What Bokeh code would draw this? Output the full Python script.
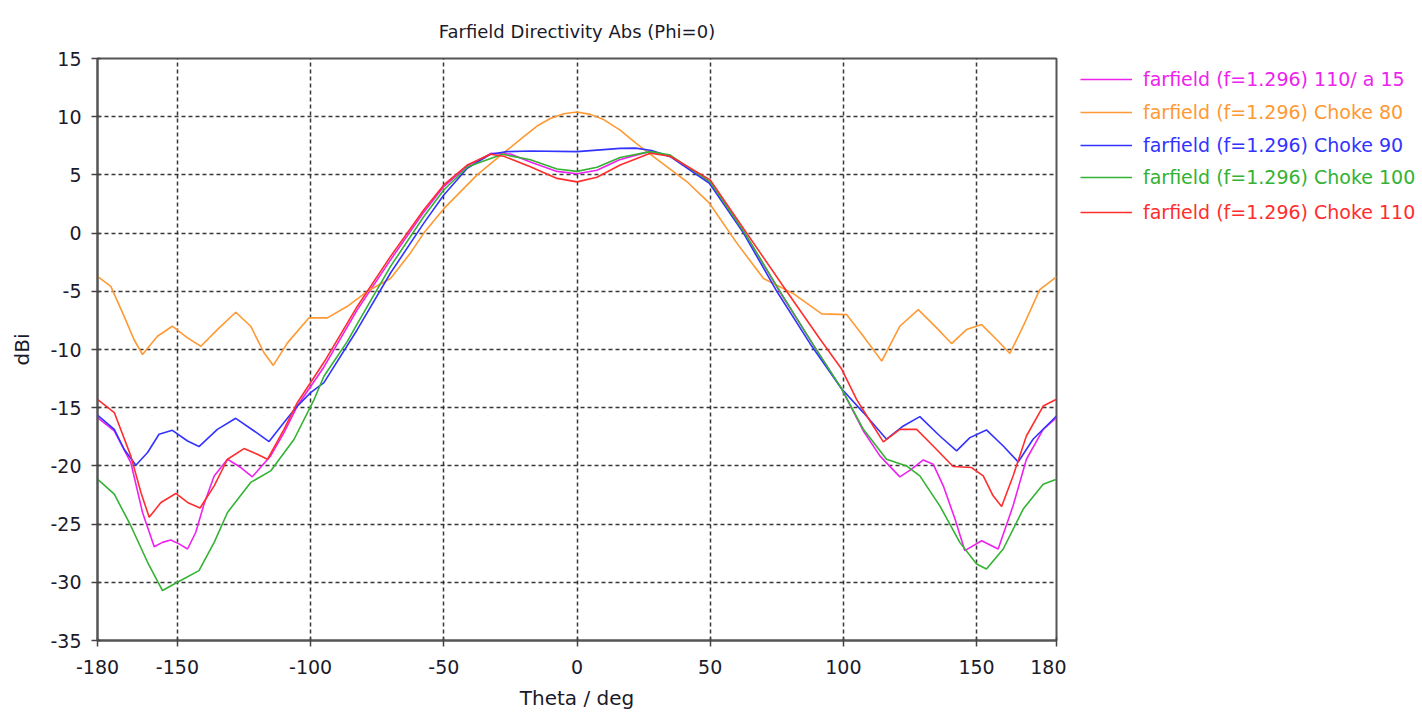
from bokeh.plotting import figure
from bokeh.layouts import row
from bokeh.models import FixedTicker, Legend, LegendItem, Range1d, PrintfTickFormatter
from bokeh.embed import file_html
from bokeh.resources import INLINE

# ---------------- data ----------------
x_ticks = [-180, -150, -100, -50, 0, 50, 100, 150, 180]
y_ticks = [-35, -30, -25, -20, -15, -10, -5, 0, 5, 10, 15]

series_names = [
    "farfield (f=1.296) 110/ a 15",
    "farfield (f=1.296) Choke 80",
    "farfield (f=1.296) Choke 90",
    "farfield (f=1.296) Choke 100",
    "farfield (f=1.296) Choke 110",
]
series_colors = ["#ee22ee", "#ff9933", "#3333ff", "#33b233", "#ff2e2e"]

theta_a15 = [-180, -173.7, -167.5, -163.1, -158.7, -155.6, -152.5, -149.4, -146.2, -143.1, -140,
             -136.2, -131.2, -126.2, -121.9, -115, -110, -105, -95, -82.5, -70, -57.5, -50,
             -41, -32.3, -25, -17.5, -7.5, 0, 7.5, 16, 27, 35, 50, 63, 76, 88.7, 99.4, 107.5,
             113.7, 121.2, 125.6, 130, 133.7, 137.5, 141.9, 145.6, 151.9, 158.1, 163.7, 168.7,
             175, 180]
dbi_a15 = [-15.85, -17.0, -19.71, -24.0, -26.94, -26.57, -26.37, -26.7, -27.14, -25.7, -23.28,
           -20.86, -19.43, -20.14, -20.94, -19.14, -17.14, -14.86, -11.5, -6.6, -2.3, 1.8, 4.0,
           5.8, 6.85, 6.8, 6.1, 5.3, 5.1, 5.4, 6.3, 7.0, 6.6, 4.4, 0.0, -5.0, -9.6, -13.4, -17.0,
           -19.14, -20.94, -20.28, -19.49, -19.85, -21.71, -24.57, -27.28, -26.43, -27.14, -23.43,
           -19.43, -16.86, -15.85]

theta_c80 = [-180, -175, -170, -166.3, -163.1, -157.5, -151.9, -146.2, -141.2, -135, -128.1,
             -122.5, -117.5, -114, -108.7, -100.6, -93.7, -86.2, -78.7, -70, -62.5, -57.5, -50,
             -37.5, -28, -20, -15, -10, -5, 0, 5, 10, 16.2, 22, 28.7, 41.2, 49.7, 60, 70, 81.2,
             91.9, 101.2, 107.5, 114.4, 121.2, 128.1, 135, 140.6, 146.2, 151.9, 157.5, 162.5,
             167.5, 173.7, 180]
dbi_c80 = [-3.72, -4.58, -7.15, -9.14, -10.43, -8.86, -8.0, -9.0, -9.72, -8.29, -6.8,
           -8.0, -10.28, -11.37, -9.43, -7.28, -7.28, -6.29, -5.0, -3.9, -1.7, 0.0, 2.1,
           5.0, 6.8, 8.28, 9.2, 9.85, 10.25, 10.4, 10.2, 9.75, 8.85, 7.75, 6.57, 4.43, 2.57,
           -0.86, -3.9, -5.2, -6.94, -7.0, -8.86, -11.0, -8.0, -6.57, -8.14, -9.49, -8.29, -7.86,
           -9.14, -10.34, -8.0, -4.86, -3.77]

theta_c90 = [-180, -173.7, -170, -165.6, -161.2, -156.9, -151.9, -146.2, -141.9, -135, -128.1,
             -121.2, -115.6, -110, -105, -100, -95, -82.5, -70, -57.5, -50, -41.2, -32.5, -26.2,
             -17.5, 0, 16.2, 22, 28, 35, 49.7, 62.5, 75, 87.5, 99.4, 107.5, 116.2, 122.5, 128.7,
             136.2, 142.5, 147.5, 153.7, 160, 165.6, 171.2, 180]
dbi_c90 = [-15.63, -16.86, -18.57, -19.94, -18.85, -17.28, -16.94, -17.86, -18.34, -16.86, -15.91,
           -17.0, -17.91, -16.28, -14.86, -13.7, -12.85, -8.3, -3.43, 0.86, 3.28, 5.57, 6.77, 7.0,
           7.05, 7.0, 7.28, 7.3, 7.1, 6.57, 4.28, 0.0, -5.0, -9.5, -13.4, -15.42, -17.71, -16.57,
           -15.77, -17.43, -18.71, -17.57, -16.91, -18.29, -19.66, -17.71, -15.71]

theta_c100 = [-180, -173.7, -167.5, -161.2, -155.6, -150, -141.9, -136.2, -131.2, -122.5, -115,
              -106.2, -98.7, -95, -86.2, -82.5, -70, -57.5, -50, -41, -28, -17.5, -7.5, 0, 7.5,
              16.2, 27.5, 35, 50, 63, 76.2, 88.7, 99.4, 107.5, 116.2, 123.7, 128.7, 136.2, 143.7,
              150, 153.7, 160, 167.5, 175, 180]
dbi_c100 = [-21.14, -22.43, -25.14, -28.28, -30.71, -30.0, -29.0, -26.57, -24.0, -21.42, -20.43,
            -17.71, -14.3, -12.3, -9.3, -7.8, -2.86, 1.43, 3.7, 5.7, 6.77, 6.3, 5.5, 5.3, 5.65,
            6.5, 7.0, 6.7, 4.4, 0.0, -5.0, -9.6, -13.4, -16.86, -19.43, -20.0, -20.86, -23.43,
            -26.57, -28.43, -28.85, -27.14, -23.71, -21.57, -21.14]

theta_c110 = [-180, -173.7, -167.5, -163.7, -160.6, -156.2, -150.6, -146.2, -141.5, -136.2, -131.2,
              -125, -120, -116.2, -110, -105, -95, -82.5, -70, -57.5, -50, -41.2, -32.5, -27.5,
              -17.5, -7.5, 0, 7.5, 16.2, 27.5, 35, 50, 63.7, 78.7, 91.2, 99.4, 105, 110, 115,
              121.2, 127.5, 133.7, 141.2, 148.1, 152.5, 156.2, 159.4, 163.7, 168.7, 175, 180]
dbi_c110 = [-14.28, -15.42, -19.14, -22.28, -24.42, -23.14, -22.37, -23.14, -23.62, -21.71, -19.43,
            -18.51, -19.0, -19.43, -16.86, -14.57, -11.1, -6.3, -2.0, 2.0, 4.14, 5.85, 6.77, 6.6,
            5.7, 4.7, 4.4, 4.8, 5.85, 6.86, 6.6, 4.57, 0.0, -5.0, -9.1, -11.7, -14.3, -16.14,
            -17.94, -16.86, -16.86, -18.29, -20.05, -20.14, -20.86, -22.57, -23.48, -20.86,
            -17.43, -14.86, -14.28]

series_theta = [theta_a15, theta_c80, theta_c90, theta_c100, theta_c110]
series_dbi = [dbi_a15, dbi_c80, dbi_c90, dbi_c100, dbi_c110]

# ---------------- main figure ----------------
FONT = "DejaVu Sans"
TXT = "#1a1a2a"
H = 712

p = figure(width=1066, height=H, output_backend="svg", toolbar_location=None,
           x_range=Range1d(-180, 180), y_range=Range1d(-35, 15),
           title="Farfield Directivity Abs (Phi=0)",
           min_border_left=97, min_border_right=10, min_border_top=58, min_border_bottom=72)

p.title.align = "center"
p.title.text_font = FONT
p.title.text_font_size = "18px"
p.title.text_font_style = "normal"
p.title.text_color = TXT
p.title.standoff = 33

p.background_fill_color = "white"
p.border_fill_color = "white"
p.outline_line_color = "#555555"
p.outline_line_width = 2

for ax in (p.xaxis[0], p.yaxis[0]):
    ax.axis_line_color = "#555555"
    ax.axis_line_width = 2
    ax.major_tick_line_color = "#444444"
    ax.major_tick_line_width = 1.5
    ax.major_tick_out = 6
    ax.major_tick_in = 3
    ax.minor_tick_line_color = None
    ax.major_label_text_font = FONT
    ax.major_label_text_font_size = "19px"
    ax.major_label_text_color = TXT
    ax.axis_label_text_font = FONT
    ax.axis_label_text_font_size = "20px"
    ax.axis_label_text_font_style = "normal"
    ax.axis_label_text_color = TXT
    ax.formatter = PrintfTickFormatter(format="%d")

p.xaxis.ticker = FixedTicker(ticks=x_ticks)
p.yaxis.ticker = FixedTicker(ticks=y_ticks)
p.xaxis.axis_label = "Theta / deg"
p.yaxis.axis_label = "dBi"
p.xaxis.major_label_standoff = 13
p.yaxis.major_label_standoff = 10
p.xaxis.axis_label_standoff = 9
p.yaxis.axis_label_standoff = 13

for g in (p.xgrid[0], p.ygrid[0]):
    g.grid_line_color = "#222222"
    g.grid_line_width = 1.5
    g.grid_line_dash = "4 3"
    g.grid_line_alpha = 0.9
p.xgrid.ticker = FixedTicker(ticks=x_ticks)
p.ygrid.ticker = FixedTicker(ticks=y_ticks)

for th, db, c in zip(series_theta, series_dbi, series_colors):
    p.line(th, db, line_color=c, line_width=1.6)

# ---------------- legend panel (one legend per entry: coloured labels) ----------------
LW = 354
lg = figure(width=LW, height=H, output_backend="svg", toolbar_location=None,
            x_range=Range1d(0, 1), y_range=Range1d(0, 1),
            x_axis_location=None, y_axis_location=None,
            min_border_left=0, min_border_right=0, min_border_top=0, min_border_bottom=0)
lg.outline_line_color = None
lg.xgrid.visible = False
lg.ygrid.visible = False

row_centres = [80, 112.7, 146, 178.3, 212.7]
for name, c, yc in zip(series_names, series_colors, row_centres):
    # legend-only glyph, kept outside the visible range of this panel
    r = lg.line([5, 6], [5, 6], line_color=c, line_width=1.6)
    leg = Legend(items=[LegendItem(label=name, renderers=[r])],
                 location=(14, H - 82 - yc), orientation="vertical",
                 padding=0, margin=0, spacing=0,
                 glyph_width=52, glyph_height=20, label_standoff=11,
                 label_height=20,
                 border_line_alpha=0, background_fill_alpha=0,
                 label_text_font=FONT, label_text_font_size="19px",
                 label_text_color=c)
    lg.add_layout(leg)

layout = row(p, lg, spacing=0)
open("out.html", "w").write(file_html(layout, INLINE))
